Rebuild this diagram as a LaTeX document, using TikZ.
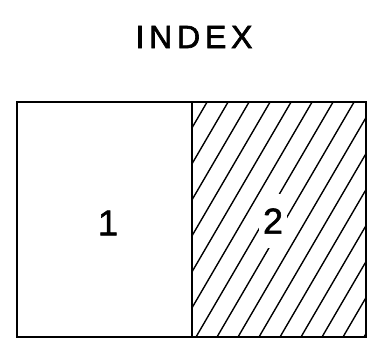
\documentclass[tikz,border=0pt]{standalone}
\usepackage{fontspec}
\setmainfont{Liberation Sans}
\begin{document}
\begin{tikzpicture}[x=1pt,y=-1pt,
  frame/.style={line width=2.2pt},
  hatch/.style={line width=1.4pt},
  lbl/.style={font=\fontsize{36}{36}\selectfont\addfontfeature{FakeBold=1.5}, inner sep=0pt}]
\useasboundingbox (0,0) rectangle (384,353);
\node[font=\fontsize{32}{32}\selectfont\addfontfeature{LetterSpace=15,FakeBold=2}, inner sep=0pt] (title) at (194,37) {INDEX};
\begin{scope}
  \clip (192,102) rectangle (366,337);
  \foreach \i in {-2,...,15} \draw[hatch] (70+21*\i,337) -- ++(140,-240);
\end{scope}
\node[lbl, fill=white, inner xsep=4pt, inner ysep=14pt] (two) at (273,221) {2};
\node[lbl] (one) at (108,223) {1};
\draw[frame] (17,102) rectangle (366,337);
\draw[frame] (192,102) -- (192,337);
\end{tikzpicture}
\end{document}
